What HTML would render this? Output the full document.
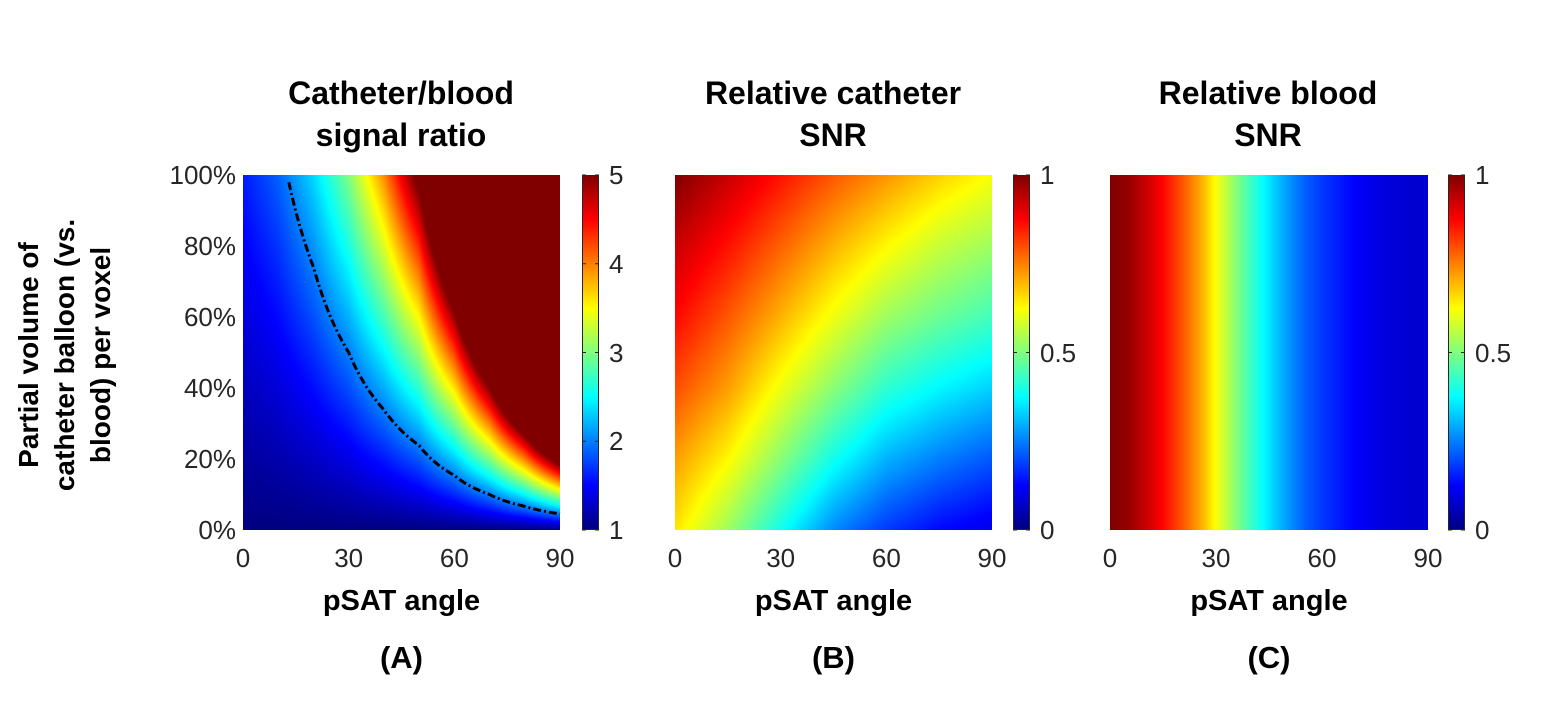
<!DOCTYPE html>
<html><head><meta charset="utf-8">
<style>
html,body{margin:0;padding:0;background:#fff;}
#root{position:relative;width:1549px;height:727px;overflow:hidden;background:#fff;font-family:"Liberation Sans",Arial,sans-serif;}
.t{position:absolute;white-space:nowrap;}
.title{font-weight:bold;font-size:32px;color:#000;text-align:center;line-height:42px;transform:translateX(-50%);}
.tick{font-size:26px;color:#262626;}
.xl{font-weight:bold;font-size:29px;transform:translateX(-50%);}
.pl{font-weight:bold;font-size:31px;transform:translateX(-50%);}
canvas{position:absolute;}
</style></head><body>
<div id="root">
<svg id="ov" width="1549" height="727" style="position:absolute;left:0;top:0;"></svg>
</div>
<script>
// ---- data ----
const angles = [0,10,20,30,40,50,60,70,80,90];
// Panel A: catheter/blood ratio = 1 + pv * gain(angle)
const ratioGain = [0.6,0.88,1.35,2.0,2.95,4.2,6.5,10,15,22];
const contourLevel = 2;
// Panel B: catheter SNR grid (rows pv 100..0, cols angle 0..90 step 15)
const snrAngles = [0,15,30,45,60,75,90];
const snrPV = [1.0,0.8,0.6,0.4,0.2,0.0];
const catheterSNR = [
 [1.00,0.93,0.86,0.79,0.73,0.67,0.62],
 [0.93,0.86,0.78,0.70,0.63,0.57,0.53],
 [0.87,0.79,0.70,0.61,0.53,0.48,0.44],
 [0.80,0.72,0.61,0.51,0.42,0.37,0.33],
 [0.72,0.63,0.51,0.39,0.30,0.25,0.21],
 [0.65,0.53,0.39,0.26,0.18,0.13,0.10]];
// Panel C: blood SNR vs angle (step 5)
const bloodAngles = [0,5,10,15,20,25,30,35,40,45,50,55,60,65,70,75,80,85,90];
const bloodSNR = [1.0,0.98,0.93,0.87,0.8,0.72,0.62,0.52,0.43,0.35,0.28,0.22,0.18,0.15,0.12,0.1,0.09,0.08,0.08];
const xTicks = [0,30,60,90];
const yTicks = [0,20,40,60,80,100];
const cbTicksA = [1,2,3,4,5];
const cbTicksBC = [0,0.5,1];

const root=document.getElementById('root'), ov=document.getElementById('ov');
const TOP=175,BOT=530;
const panels=[{l:243,r:560,cb:582,name:'a'},{l:675,r:992,cb:1013,name:'b'},{l:1110,r:1428,cb:1448,name:'c'}];
function cl(v){return Math.max(0,Math.min(1,v));}
function jet(t){t=cl(t);return [cl(1.5-Math.abs(4*t-3)),cl(1.5-Math.abs(4*t-2)),cl(1.5-Math.abs(4*t-1))].map(v=>Math.round(v*255));}
function interp1(xs,ys,x){if(x<=xs[0])return ys[0];for(let i=1;i<xs.length;i++){if(x<=xs[i]){const f=(x-xs[i-1])/(xs[i]-xs[i-1]);return ys[i-1]+f*(ys[i]-ys[i-1]);}}return ys[ys.length-1];}
function valA(a,pv){return 1+pv*interp1(angles,ratioGain,a);}
function valB(a,pv){const col=snrPV.map((p,i)=>interp1(snrAngles,catheterSNR[i],a));return interp1(snrPV.slice().reverse(),col.slice().reverse(),pv);}
function valC(a,pv){return interp1(bloodAngles,bloodSNR,a);}
const fns=[[valA,1,5],[valB,0,1],[valC,0,1]];
function xS(p,a){return p.l+(p.r-p.l)*a/90;}
function yS(pv){return BOT-(BOT-TOP)*pv;}
function txt(cls,x,y,s,name){const d=document.createElement('div');d.className='t '+cls;d.style.left=x+'px';d.style.top=y+'px';d.innerHTML=s;


root.appendChild(d);return d;}
function svgEl(tag,attrs,name){const e=document.createElementNS('http://www.w3.org/2000/svg',tag);for(const k in attrs)e.setAttribute(k,attrs[k]);


ov.appendChild(e);return e;}

panels.forEach((p,k)=>{
  const [f,lo,hi]=fns[k];
  const W=p.r-p.l,H=BOT-TOP;
  const c=document.createElement('canvas');c.width=W;c.height=H;c.style.left=p.l+'px';c.style.top=TOP+'px';
  
  
  root.insertBefore(c,ov);
  const ctx=c.getContext('2d');const img=ctx.createImageData(W,H);
  for(let y=0;y<H;y++){const pv=1-(y+0.5)/H;for(let x=0;x<W;x++){const a=90*(x+0.5)/W;const col=jet((f(a,pv)-lo)/(hi-lo));const i=(y*W+x)*4;img.data[i]=col[0];img.data[i+1]=col[1];img.data[i+2]=col[2];img.data[i+3]=255;}}
  ctx.putImageData(img,0,0);
  const cb=document.createElement('canvas');cb.width=17;cb.height=H;cb.style.left=p.cb+'px';cb.style.top=TOP+'px';
  
  
  root.insertBefore(cb,ov);
  const cx=cb.getContext('2d');for(let y=0;y<H;y++){const col=jet(1-(y+0.5)/H);cx.fillStyle=`rgb(${col})`;cx.fillRect(0,y,17,1);}
  svgEl('rect',{x:p.cb+0.5,y:TOP+0.5,width:16,height:H-1,fill:'none',stroke:'#262626','stroke-width':1},'colorbar-border');
  const cbt=k==0?cbTicksA:cbTicksBC;
  cbt.forEach(v=>{const y=BOT-(BOT-TOP)*(v-lo)/(hi-lo);
    svgEl('line',{x1:p.cb,x2:p.cb+4,y1:y,y2:y,stroke:'#262626'},'colorbar-tick');
    svgEl('line',{x1:p.cb+13,x2:p.cb+17,y1:y,y2:y,stroke:'#262626'},'colorbar-tick');
    txt('tick',p.cb+27,y-15,String(v),'colorbar-tick-label');});
  xTicks.forEach(a=>{const d=txt('tick',xS(p,a),543,String(a),'x-tick-label');d.style.transform='translateX(-50%)';});
  txt('xl',(p.l+p.r)/2,585,'pSAT angle','x-axis-title');
  txt('pl',(p.l+p.r)/2,640,'('+['A','B','C'][k]+')','panel-label');
});
txt('title',401,72,'Catheter/blood<br>signal ratio','title-a');
txt('title',833,72,'Relative catheter<br>SNR','title-b');
txt('title',1268,72,'Relative blood<br>SNR','title-c');
yTicks.forEach(v=>{const d=txt('tick',236,yS(v/100)-15,v+'%','y-tick-label');d.style.transform='translateX(-100%)';});
const yt=txt('title',65,355,'Partial volume of<br>catheter balloon (vs.<br>blood) per voxel','y-axis-title');
yt.style.fontSize='28px';yt.style.lineHeight='36px';yt.style.transform='translate(-50%,-50%) rotate(-90deg)';
let pts=[];
for(let a=0;a<=90;a+=0.5){const pv=(contourLevel-1)/interp1(angles,ratioGain,a);if(pv<=1)pts.push(xS(panels[0],a).toFixed(1)+','+yS(pv).toFixed(1));}
svgEl('polyline',{points:pts.join(' '),fill:'none',stroke:'#000','stroke-width':3,'stroke-dasharray':'8,3,2,3'},'contour-line');
</script>
</body></html>
